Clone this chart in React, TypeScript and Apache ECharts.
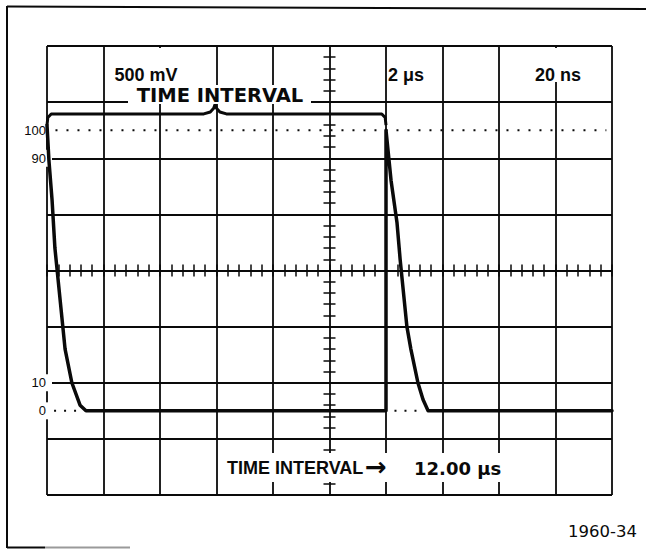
import React, { useEffect, useRef } from "react";
import * as echarts from "echarts";

// Horizontal: time in microseconds (2 us/div, 10 divisions)
const timeMinUs = 0;
const timeMaxUs = 20;
const timePerDivUs = 2;
// Vertical: divisions (8), amplitude read in percent (0% = 1.5 div, 100% = 6.5 div)
const divMin = 0;
const divMax = 8;
const zeroPctDiv = 1.5;
const pctPerDiv = 20;

// Amplitude scale labels (percent)
const ampLabelsPct = [0, 10, 90, 100];

// Displayed trace (time in us, amplitude in %)
const traceTimeUs = [0, 0.07, 0.18, 0.28, 0.46, 0.64, 0.88, 1.17, 1.38, 12.0, 12.0, 12.18, 12.39, 12.5, 12.64, 12.74, 12.88, 13.13, 13.31, 13.49, 20];
const tracePct = [101.8, 89, 75, 58, 40, 22, 10, 2, 0, 0, 100, 82, 67, 54, 40, 30, 22, 10, 4, 0, 0];

// "TIME INTERVAL" brace drawn above the pulse top
const braceTimeUs = [0, 0.03, 0.15, 5.55, 5.78, 5.9, 5.95, 6.0, 6.12, 6.35, 11.85, 11.97, 12.0];
const bracePct = [101.8, 104.5, 105.8, 105.8, 106.5, 107.8, 109.2, 107.8, 106.5, 105.8, 105.8, 104.5, 101.8];

// Dotted reference lines
const topRefTimeUs = [0.3, 19.8];
const topRefPct = [100, 100];
const zeroRefATimeUs = [0.25, 1.1];
const zeroRefBTimeUs = [12.3, 13.2];
const zeroRefPct = [0, 0];

function toDiv(p: number) {
  return zeroPctDiv + p / pctPerDiv;
}
function pairs(ts: number[], ps: number[]) {
  return ts.map((t, i) => [t, toDiv(ps[i])]);
}

const INK = "#0a0a0a";
const HEAD_FONT = 'bold 18px "Liberation Sans", Arial, sans-serif';
const WIDE_FONT = 'bold 19.5px "DejaVu Sans", sans-serif';

export default function App() {
  const ref = useRef<HTMLDivElement>(null);
  useEffect(() => {
    if (!ref.current) return;
    const chart = echarts.init(ref.current, undefined, { renderer: "svg" });
    const gridLeft = 47;
    const gridTop = 46;
    const gridWidth = 565;
    const gridHeight = 449;
    const baseX = { type: "value", min: timeMinUs, max: timeMaxUs, interval: timePerDivUs, axisLabel: { show: false }, splitLine: { show: false } };
    const baseY = { type: "value", min: divMin, max: divMax, interval: 1, axisLabel: { show: false }, splitLine: { show: false } };
    const tickStyle = { color: INK, width: 1.5 };
    const centerX = (inside: boolean) => ({
      ...baseX,
      position: "bottom",
      offset: -gridHeight / 2,
      axisLine: { show: false, onZero: false },
      axisTick: { show: true, inside, length: 6, lineStyle: tickStyle },
      minorTick: { show: true, splitNumber: 5, length: 6, lineStyle: tickStyle },
    });
    const centerY = (inside: boolean) => ({
      ...baseY,
      position: "left",
      offset: -gridWidth / 2,
      axisLine: { show: false, onZero: false },
      axisTick: { show: true, inside, length: 6, lineStyle: tickStyle },
      minorTick: { show: true, splitNumber: 5, length: 6, lineStyle: tickStyle },
    });
    const option: any = {
      animation: false,
      backgroundColor: "#ffffff",
      grid: { left: gridLeft, top: gridTop, width: gridWidth, height: gridHeight, outerBoundsMode: "none", containLabel: false },
      xAxis: [
        {
          ...baseX,
          axisLine: { show: false, onZero: false },
          axisTick: { show: false },
          splitLine: { show: true, lineStyle: { color: INK, width: 1.8 } },
        },
        centerX(false),
        centerX(true),
      ],
      yAxis: [
        {
          ...baseY,
          axisLine: { show: false, onZero: false },
          axisTick: { show: false },
          splitLine: { show: true, lineStyle: { color: INK, width: 1.8 } },
        },
        centerY(false),
        centerY(true),
        {
          ...baseY,
          position: "left",
          offset: -5,
          z: 1,
          axisLine: { show: false, onZero: false },
          axisTick: { show: false },
          axisLabel: {
            show: true,
            customValues: ampLabelsPct.map(toDiv),
            formatter: (v: number) => String(Math.round((v - zeroPctDiv) * pctPerDiv)),
            margin: 0,
            color: INK,
            fontSize: 13,
            fontFamily: '"Liberation Sans", Arial, sans-serif',
            backgroundColor: "#ffffff",
            padding: [2, 6, 2, 1],
          },
        },
      ],
      series: [
        {
          type: "line",
          data: pairs(topRefTimeUs, topRefPct),
          symbol: "none",
          lineStyle: { color: INK, width: 2, type: [2, 9] },
          z: 3,
        },
        {
          type: "line",
          data: pairs(zeroRefATimeUs, zeroRefPct),
          symbol: "none",
          lineStyle: { color: INK, width: 2, type: [2, 8] },
          z: 3,
        },
        {
          type: "line",
          data: pairs(zeroRefBTimeUs, zeroRefPct),
          symbol: "none",
          lineStyle: { color: INK, width: 2, type: [2, 8] },
          z: 3,
        },
        {
          type: "line",
          data: pairs(braceTimeUs, bracePct),
          symbol: "none",
          lineStyle: { color: INK, width: 3, join: "round" },
          z: 4,
        },
        {
          type: "line",
          data: pairs(traceTimeUs, tracePct),
          symbol: "none",
          lineStyle: { color: INK, width: 3.5, join: "round", cap: "round" },
          z: 5,
        },
      ],
      graphic: [
        { type: "line", z: 100, shape: { x1: 7, y1: 6.5, x2: 646, y2: 9 }, style: { stroke: INK, lineWidth: 2 } },
        { type: "line", z: 100, shape: { x1: 7, y1: 6, x2: 7, y2: 548 }, style: { stroke: INK, lineWidth: 2 } },
        { type: "line", z: 100, shape: { x1: 7, y1: 547.5, x2: 45, y2: 547.5 }, style: { stroke: INK, lineWidth: 2 } },
        { type: "line", z: 100, shape: { x1: 45, y1: 547.5, x2: 130, y2: 547.5 }, style: { stroke: "#9a9a9a", lineWidth: 2 } },
        { type: "rect", z: 100, shape: { x: 150, y: 48, width: 20, height: 47 }, style: { fill: "#fff" } },
        { type: "rect", z: 100, shape: { x: 128, y: 85, width: 183, height: 19 }, style: { fill: "#fff" } },
        { type: "rect", z: 100, shape: { x: 545, y: 48, width: 20, height: 34 }, style: { fill: "#fff" } },
        { type: "rect", z: 100, shape: { x: 224, y: 453, width: 282, height: 29 }, style: { fill: "#fff" } },
        { type: "text", z: 101, style: { text: "500 mV", x: 146, y: 75, align: "center", verticalAlign: "middle", font: HEAD_FONT, fill: INK } },
        { type: "text", z: 101, style: { text: "TIME INTERVAL", x: 220, y: 95, align: "center", verticalAlign: "middle", font: WIDE_FONT, fill: INK } },
        { type: "text", z: 101, style: { text: "2 μs", x: 406, y: 75, align: "center", verticalAlign: "middle", font: HEAD_FONT, fill: INK } },
        { type: "text", z: 101, style: { text: "20 ns", x: 558, y: 75, align: "center", verticalAlign: "middle", font: HEAD_FONT, fill: INK } },
        { type: "text", z: 101, style: { text: "TIME INTERVAL", x: 227, y: 468, align: "left", verticalAlign: "middle", font: HEAD_FONT, fill: INK } },
        { type: "text", z: 101, style: { text: "→", x: 365, y: 467, align: "left", verticalAlign: "middle", font: 'bold 26px "DejaVu Sans", sans-serif', fill: INK } },
        { type: "text", z: 101, style: { text: "12.00 μs", x: 414, y: 468, align: "left", verticalAlign: "middle", font: 'bold 18px "DejaVu Sans", sans-serif', fill: INK } },
        { type: "text", z: 101, style: { text: "1960-34", x: 637, y: 531, align: "right", verticalAlign: "middle", font: '16.5px "DejaVu Sans", sans-serif', fill: INK } },
      ],
    };
    chart.setOption(option);
    return () => chart.dispose();
  }, []);
  return <div ref={ref} style={{ position: "absolute", left: 0, top: 0, width: 646, height: 549 }} />;
}
